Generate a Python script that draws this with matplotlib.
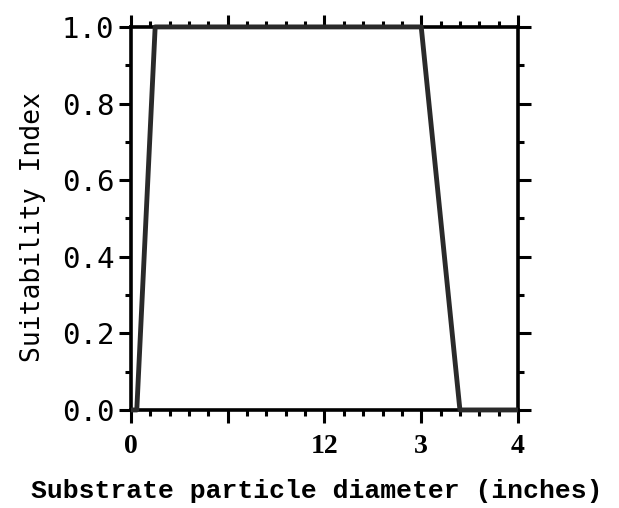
import matplotlib
matplotlib.use('Agg')

import matplotlib.pyplot as plt
from matplotlib.ticker import MultipleLocator

# suitability curve breakpoints
diameter = [0.0, 0.06, 0.25, 3.0, 3.4, 4.0]
suitability = [0.0, 0.0, 1.0, 1.0, 0.0, 0.0]

x_tick_pos = [0, 1, 2, 3, 4]
x_tick_labels = ['0', '', '12', '3', '4']
y_ticks = [0.0, 0.2, 0.4, 0.6, 0.8, 1.0]

fig = plt.figure(figsize=(6.19, 5.08), dpi=100)
ax = fig.add_axes([0.2116, 0.193, 0.6252, 0.754])

ax.plot(diameter, suitability, color='#2a2a2a', linewidth=3.5,
        solid_capstyle='butt', clip_on=False, zorder=3)

ax.set_xlim(0, 4)
ax.set_ylim(0, 1)

for side in ['left', 'right', 'top', 'bottom']:
    ax.spines[side].set_linewidth(2.6)

ax.xaxis.set_minor_locator(MultipleLocator(0.2))
ax.yaxis.set_minor_locator(MultipleLocator(0.1))

ax.tick_params(which='both', direction='out', top=True, right=True,
               width=2.2, color='black')
ax.tick_params(which='major', length=9)
ax.tick_params(which='minor', length=4)

ax.set_xticks(x_tick_pos)
ax.set_xticklabels(x_tick_labels, fontfamily='Liberation Serif',
                   fontweight='bold', fontsize=20)
ax.tick_params(axis='x', which='major', pad=8)

ax.set_yticks(y_ticks)
ax.set_yticklabels([f'{v:.1f}' for v in y_ticks], fontfamily='DejaVu Sans Mono',
                   fontsize=21)
ax.tick_params(axis='y', which='major', pad=3)

ax.set_ylabel('Suitability Index', fontfamily='DejaVu Sans Mono', fontsize=19)
ax.yaxis.set_label_coords(-0.22, 0.478)

fig.text(317 / 619, 1 - 491 / 508, 'Substrate particle diameter (inches)',
         fontfamily='Liberation Mono', fontweight='bold', fontsize=19,
         ha='center', va='center')

plt.savefig('out.png', dpi=100)
plt.close()
